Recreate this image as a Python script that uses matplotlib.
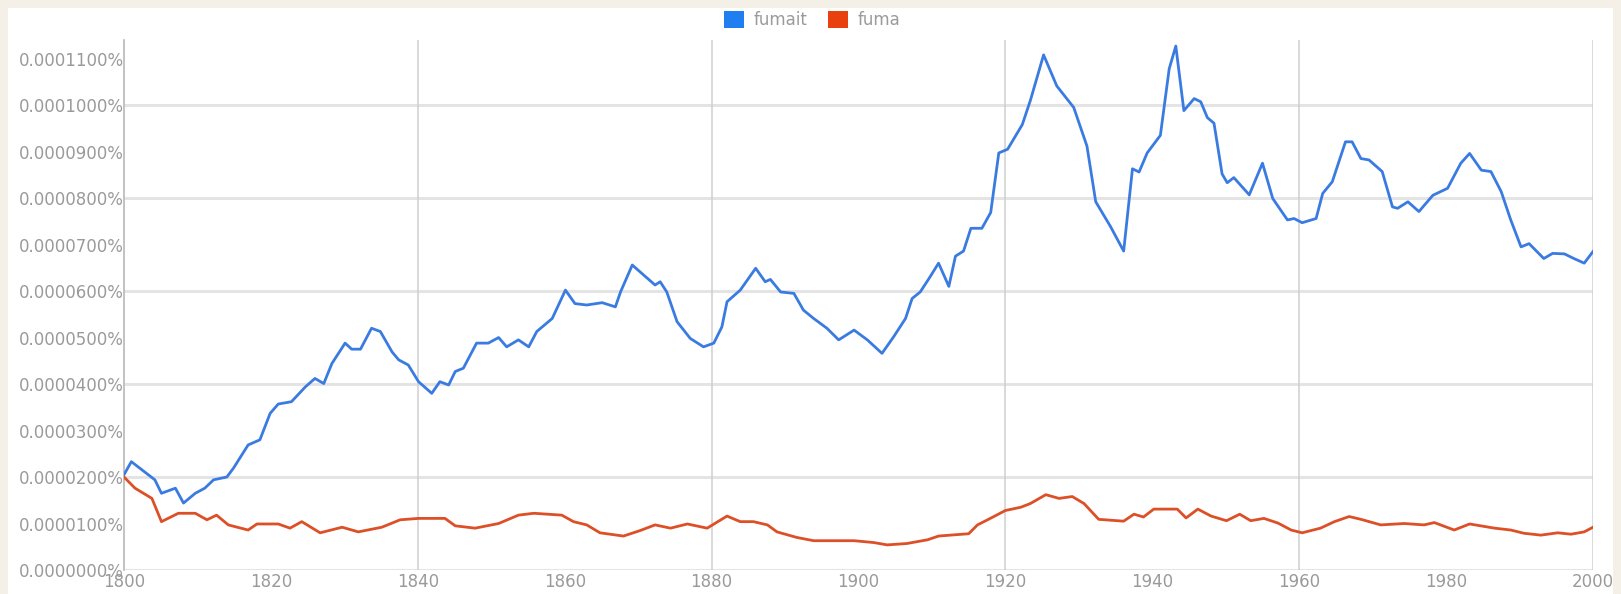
import matplotlib
matplotlib.use("Agg")
import matplotlib.pyplot as plt
from matplotlib.patches import Rectangle, Patch

# values are in units of 0.00001 %
fumait_years = [1800, 1801, 1804.2, 1805.1, 1807, 1808.1, 1809.7, 1811, 1812.2, 1814, 1814.9,
                1816.9, 1818.5, 1819.9, 1821, 1822.8, 1824.7, 1826, 1827.2, 1828.3, 1830.1,
                1831, 1832.2, 1833.7, 1834.9, 1836.5, 1837.4, 1838.7, 1840.1, 1841.9, 1843,
                1844.2, 1845.1, 1846.2, 1848, 1849.6, 1851, 1852.1, 1853.7, 1855.1, 1856.2,
                1858.3, 1860.1, 1861.4, 1863, 1865.1, 1866.9, 1867.6, 1869.2, 1871, 1872.3,
                1873, 1873.9, 1875.3, 1877.1, 1878.9, 1880.3, 1881.4, 1882.1, 1883.9, 1886,
                1887.3, 1888, 1889.4, 1891.2, 1892.5, 1893.9, 1895.7, 1897.3, 1899.4, 1901.2,
                1903.2, 1904.8, 1906.4, 1907.3, 1908.4, 1909.6, 1910.9, 1912.3, 1913.2, 1914.3,
                1915.3, 1916.8, 1918, 1919.1, 1920.3, 1922.3, 1923.4, 1925.2, 1927, 1929.3,
                1931.1, 1932.3, 1934.3, 1936.1, 1937.3, 1938.2, 1939.3, 1941.1, 1942.3, 1943.2,
                1944.3, 1945.7, 1946.6, 1947.5, 1948.4, 1949.5, 1950.2, 1951.1, 1953.2, 1955,
                1956.4, 1958.4, 1959.3, 1960.4, 1962.3, 1963.2, 1964.5, 1966.3, 1967.2, 1968.4,
                1969.5, 1971.3, 1972.7, 1973.4, 1974.8, 1976.3, 1978.2, 1980.2, 1982, 1983.2,
                1984.8, 1986.1, 1987.5, 1988.8, 1990.2, 1991.3, 1993.3, 1994.5, 1996.1, 1997.4,
                1998.8, 2000]
fumait_vals = [2.05, 2.33, 1.94, 1.65, 1.76, 1.44, 1.65, 1.76, 1.94, 2.0, 2.19,
               2.69, 2.8, 3.37, 3.57, 3.62, 3.94, 4.12, 4.01, 4.44, 4.88,
               4.75, 4.75, 5.2, 5.13, 4.69, 4.52, 4.41, 4.05, 3.8, 4.05,
               3.98, 4.27, 4.34, 4.88, 4.88, 5.0, 4.8, 4.95, 4.8, 5.13,
               5.41, 6.02, 5.73, 5.7, 5.75, 5.66, 5.98, 6.56, 6.31, 6.13,
               6.2, 5.98, 5.34, 4.98, 4.8, 4.88, 5.23, 5.77, 6.02, 6.49,
               6.2, 6.25, 5.98, 5.95, 5.59, 5.41, 5.2, 4.95, 5.16, 4.95,
               4.66, 5.02, 5.41, 5.84, 5.98, 6.27, 6.6, 6.1, 6.75, 6.86,
               7.35, 7.35, 7.69, 8.97, 9.05, 9.58, 10.1, 11.08, 10.41, 9.95,
               9.12, 7.92, 7.39, 6.86, 8.63, 8.56, 8.97, 9.35, 10.78, 11.27,
               9.88, 10.14, 10.07, 9.73, 9.61, 8.52, 8.33, 8.44, 8.07, 8.75,
               7.99, 7.53, 7.56, 7.47, 7.56, 8.1, 8.35, 9.21, 9.21, 8.85,
               8.82, 8.57, 7.81, 7.78, 7.92, 7.71, 8.06, 8.21, 8.75, 8.96,
               8.6, 8.57, 8.14, 7.53, 6.95, 7.02, 6.7, 6.81, 6.8, 6.7,
               6.6, 6.85]

fuma_years = [1800, 1801.5, 1803.8, 1805.1, 1807.4, 1809.7, 1811.3, 1812.6, 1814.2, 1816.9,
              1818.1, 1821, 1822.6, 1824.2, 1826.7, 1829.7, 1831.9, 1835.1, 1837.6, 1840.1,
              1843.7, 1845.1, 1847.8, 1851, 1853.7, 1855.8, 1859.6, 1861.2, 1863, 1864.8,
              1868, 1870.3, 1872.3, 1874.4, 1876.7, 1879.4, 1882.1, 1883.9, 1885.7, 1887.6,
              1888.9, 1891.6, 1893.9, 1899.4, 1902.1, 1903.9, 1906.6, 1909.4, 1910.9, 1912.5,
              1915, 1916.2, 1917.7, 1920, 1922.1, 1923.4, 1925.5, 1927.3, 1929.1, 1930.7,
              1932.7, 1936.1, 1937.5, 1938.8, 1940.2, 1943.4, 1944.6, 1946.2, 1948, 1950.1,
              1951.9, 1953.4, 1955.2, 1957.1, 1958.9, 1960.4, 1962.9, 1964.8, 1966.8, 1968.4,
              1971.1, 1974.3, 1977, 1978.4, 1981.1, 1983.2, 1986.6, 1988.8, 1990.6, 1992.9,
              1995.2, 1997, 1998.8, 2000]
fuma_vals = [2.0, 1.76, 1.54, 1.04, 1.22, 1.22, 1.08, 1.18, 0.97, 0.86,
             0.99, 0.99, 0.9, 1.04, 0.8, 0.92, 0.82, 0.92, 1.08, 1.11,
             1.11, 0.95, 0.9, 1.0, 1.18, 1.22, 1.18, 1.04, 0.97, 0.8,
             0.73, 0.85, 0.97, 0.9, 0.99, 0.9, 1.16, 1.04, 1.04, 0.97,
             0.82, 0.7, 0.63, 0.63, 0.59, 0.54, 0.57, 0.65, 0.73, 0.75,
             0.78, 0.97, 1.09, 1.28, 1.35, 1.43, 1.62, 1.54, 1.58, 1.43,
             1.09, 1.05, 1.2, 1.14, 1.31, 1.31, 1.12, 1.31, 1.16, 1.06,
             1.2, 1.06, 1.11, 1.01, 0.86, 0.8, 0.9, 1.04, 1.15, 1.09,
             0.97, 1.0, 0.97, 1.02, 0.86, 0.99, 0.9, 0.86, 0.79, 0.75,
             0.8, 0.77, 0.82, 0.92]

y_ticks = [i * 1e-5 for i in range(12)]
y_labels = ["0.%07d%%" % (i * 100) for i in range(12)]
x_ticks = list(range(1800, 2001, 20))

blue = "#3a7be2"
red = "#dd4f27"
label_col = "#9a9a9a"

fig = plt.figure(figsize=(16.21, 5.94), dpi=100, facecolor="#f4f0e8")
fig.patches.append(Rectangle((8 / 1621, 0), 1605 / 1621, 586 / 594, transform=fig.transFigure,
                             facecolor="white", edgecolor="none", zorder=-5))

ax = fig.add_axes([124 / 1621, 24 / 594, 1469 / 1621, 530 / 594])
ax.set_facecolor("white")
ax.patch.set_alpha(0)

fumait = [v * 1e-5 for v in fumait_vals]
fuma = [v * 1e-5 for v in fuma_vals]
ax.plot(fumait_years, fumait, color=blue, lw=2.0, zorder=3)
ax.plot(fuma_years, fuma, color=red, lw=2.0, zorder=3)

ax.set_xlim(1800, 2000)
ax.set_ylim(0, 11.4e-5)

# horizontal grid every 0.00002, vertical every 40 years
for i in range(0, 12, 2):
    ax.axhline(i * 1e-5, color="#e4e4e4", lw=2.2, zorder=1)
for yr in range(1840, 2001, 40):
    ax.axvline(yr, color="#cfcfcf", lw=1.1, zorder=1)

ax.set_yticks(y_ticks)
ax.set_yticklabels(y_labels)
ax.set_xticks(x_ticks)
ax.set_xticklabels([str(x) for x in x_ticks])
ax.tick_params(axis="both", length=0, labelsize=12, labelcolor=label_col)
ax.tick_params(axis="y", pad=0)
ax.tick_params(axis="x", pad=2)

for s in ["top", "right", "bottom"]:
    ax.spines[s].set_visible(False)
ax.spines["left"].set_color("#b8b8b8")
ax.spines["left"].set_linewidth(1.2)

handles = [Patch(facecolor="#1f7ef0", edgecolor="none", label="fumait"),
           Patch(facecolor="#e8400f", edgecolor="none", label="fuma")]
fig.legend(handles=handles, loc="center", bbox_to_anchor=(0.501, 0.966), ncol=2,
           frameon=False, fontsize=12, labelcolor=label_col, handlelength=1.2,
           handleheight=1.2, handletextpad=0.6, columnspacing=1.2)

fig.savefig("out.png", dpi=100, facecolor=fig.get_facecolor())
